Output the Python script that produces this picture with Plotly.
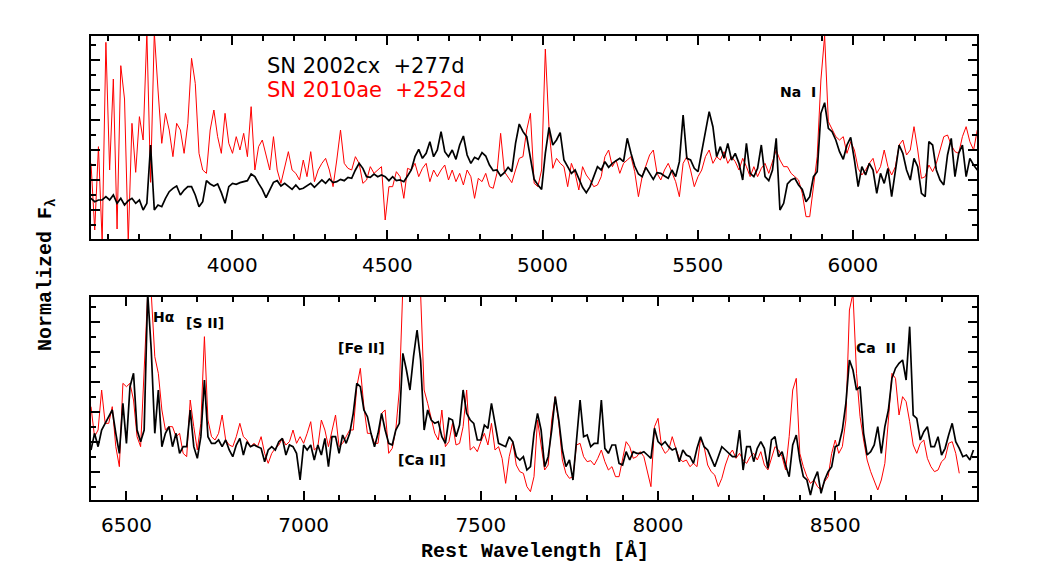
import numpy as np
import plotly.graph_objects as go

top_start, top_step = 3545, 12
bot_start, bot_step = 6400, 10

# upper panel, 3545-6400 A
top_2002cx = [
    12.2, 11.2, 11.7, 11.7, 12.7, 11.7, 13.2, 10.7, 12.2, 10.2,
    11.5, 12.2, 10.7, 11.7, 8.7, 10.7, 28.2, 8.7, 10.2, 9.7,
    12.2, 14.2, 15.2, 15.9, 13.2, 14.7, 15.7, 15.7, 13.2, 9.7,
    11.2, 17.5, 16.5, 15.9, 16.5, 13.9, 10.7, 15.7, 16.7, 16.4,
    16.9, 17.2, 17.5, 19.5, 18.7, 16.7, 14.9, 12.4, 14.9, 17.0,
    17.5, 15.9, 16.7, 15.7, 14.9, 16.2, 14.9, 15.2, 16.0, 16.7,
    15.5, 16.7, 17.7, 16.7, 18.0, 16.9, 17.2, 17.9, 17.5, 18.5,
    18.2, 20.7, 22.7, 21.2, 18.7, 18.5, 19.5, 18.7, 19.2, 18.7,
    17.5, 18.7, 17.5, 17.7, 17.2, 18.9, 20.7, 24.7, 26.9, 24.2,
    25.7, 29.2, 24.7, 26.7, 32.2, 26.2, 24.7, 26.7, 23.9, 28.2,
    30.9, 25.2, 22.7, 24.5, 23.9, 25.9, 24.9, 22.2, 20.5, 20.7,
    18.9, 19.9, 21.5, 20.2, 28.7, 34.5, 32.2, 30.7, 24.9, 17.9,
    16.2, 14.9, 25.7, 33.5, 28.2, 29.7, 31.9, 23.7, 21.7, 19.7,
    20.7, 17.9, 15.5, 13.9, 15.7, 18.7, 21.7, 20.7, 23.2, 21.5,
    22.7, 23.5, 24.2, 23.2, 30.2, 25.7, 21.9, 19.5, 18.7, 21.5,
    19.5, 17.9, 19.9, 19.7, 18.9, 18.2, 20.7, 18.7, 23.2, 37.2,
    24.2, 23.7, 21.2, 20.2, 26.2, 31.7, 38.2, 33.7, 24.7, 27.7,
    24.2, 28.7, 23.7, 25.7, 22.7, 17.7, 28.7, 19.7, 18.7, 21.2,
    28.2, 18.7, 17.5, 20.7, 30.2, 8.7, 10.7, 16.5, 17.7, 18.2,
    16.2, 14.9, 11.2, 12.7, 18.7, 20.2, 37.7, 40.9, 33.2, 32.2,
    29.7, 26.2, 23.9, 28.2, 30.5, 23.7, 15.7, 21.7, 19.2, 22.7,
    20.7, 13.7, 19.7, 16.7, 21.2, 12.7, 20.7, 28.2, 25.7, 20.7,
    17.7, 24.2, 21.7, 13.7, 12.7, 29.2, 28.2, 20.7, 17.7, 16.2,
    25.2, 30.2, 18.7, 25.7, 28.2, 18.7, 24.2, 22.2, 20.7, 19.7,
]
top_2010ae = [
    22.7, 2.7, 27.7, -1, 59, 20.7, 48, 3, 52, 42,
    -1, 34.7, 20, 36.7, 29.7, 62, 17, 62, 44.7, 28.7,
    37.7, 32.7, 24.7, 34.7, 32.7, 25.7, 34.7, 54.2, 46.7, 25.7,
    20.7, 19.7, 32.7, 38.7, 30.7, 25.7, 37.7, 28.7, 25.7, 30.7,
    26.7, 31.7, 24.7, 39.7, 20.7, 27.7, 29.7, 24.7, 20.7, 30.7,
    20.7, 16.7, 21.7, 26.2, 20.7, 19.7, 17.7, 23.7, 18.7, 26.2,
    17.2, 20.7, 22.7, 24.2, 20.7, 15.7, 23.7, 32.7, 22.7, 21.2,
    20.7, 24.7, 22.7, 16.7, 17.7, 21.7, 19.7, 20.7, 21.7, 5.7,
    15.7, 15.7, 20.2, 18.7, 12.2, 21.2, 20.7, 22.7, 18.7, 21.2,
    22.7, 17.2, 20.7, 18.7, 20.7, 22.2, 17.7, 20.7, 17.2, 19.7,
    16.2, 20.7, 18.7, 12.2, 18.2, 17.2, 19.7, 15.7, 15.2, 19.7,
    31.7, 20.2, 18.7, 16.9, 20.7, 24.2, 24.7, 32.7, 37.7, 16.7,
    15.7, 20.7, 57, 33, 21.2, 24.2, 22.7, 21.7, 15.7, 22.7,
    19.7, 14.7, 21.7, 19.2, 17.7, 15.7, 16.2, 18.7, 24.7, 26.7,
    21.7, 23.7, 19.7, 22.7, 23.7, 24.7, 20.2, 12.7, 18.7, 21.7,
    25.2, 26.7, 19.7, 17.7, 20.7, 22.7, 19.7, 17.2, 12.7, 22.7,
    24.7, 20.7, 15.7, 18.7, 20.7, 24.7, 26.7, 22.7, 24.7, 23.7,
    26.2, 22.7, 24.7, 23.2, 20.7, 24.2, 21.7, 18.7, 21.7, 18.7,
    21.2, 22.7, 19.7, 23.2, 26.7, 23.7, 21.7, 21.7, 19.7, 18.7,
    17.7, 13.7, 6.7, 6.7, 15.7, 24.7, 47.7, 61, 35.2, 32.7,
    30.7, 29.7, 30.7, 25.7, 29.2, 26.7, 21.2, 19.2, 20.7, 22.7,
    24.2, 19.7, 21.7, 26.7, 21.7, 19.2, 21.7, 28.2, 29.7, 25.2,
    26.7, 33.7, 26.7, 18.2, 18.7, 22.2, 20.2, 22.7, 26.7, 30.7,
    31.2, 28.2, 26.2, 25.7, 30.7, 33.7, 29.2, 26.7, 32.7, 29.7,
]

# lower panel, 6400-8900 A
bot_2002cx = [
    15.0, 20.0, 16.0, 21.0, 23.0, 25.0, 27.0, 20.0, 14.0, 29.0,
    17.0, 34.0, 38.0, 21.0, 17.5, 21.0, 62.0, 45.0, 20.0, 33.0,
    16.0, 20.0, 22.0, 16.0, 20.0, 14.0, 16.0, 16.0, 27.0, 16.0,
    12.5, 19.0, 36.0, 19.0, 17.0, 17.0, 18.0, 16.0, 18.0, 15.0,
    13.0, 16.5, 18.5, 13.5, 17.5, 16.0, 16.5, 16.0, 15.5, 11.5,
    15.0, 16.0, 15.0, 17.5, 18.5, 13.5, 16.5, 16.0, 14.0, 6.0,
    16.5, 15.0, 16.5, 12.0, 16.5, 13.5, 18.5, 10.0, 19.0, 19.0,
    14.0, 19.5, 17.0, 20.0, 26.0, 35.0, 34.0, 27.0, 25.0, 20.0,
    16.0, 20.0, 26.0, 21.0, 17.0, 16.5, 21.0, 23.0, 44.0, 39.0,
    33.0, 43.0, 51.0, 42.0, 21.0, 27.0, 24.0, 23.0, 23.5, 19.0,
    17.0, 24.5, 24.0, 19.0, 22.5, 33.0, 26.0, 24.0, 23.0, 18.0,
    18.0, 22.5, 21.5, 29.0, 23.0, 17.0, 16.5, 16.0, 19.0, 17.5,
    13.0, 12.0, 13.0, 9.0, 10.0, 20.0, 26.0, 21.0, 10.0, 13.0,
    21.0, 31.0, 24.0, 15.0, 10.0, 12.0, 6.0, 19.0, 30.0, 19.0,
    19.5, 16.0, 17.0, 17.0, 30.0, 15.5, 14.0, 16.5, 16.5, 11.0,
    10.5, 14.5, 12.0, 14.5, 14.0, 14.0, 14.5, 13.5, 12.5, 21.5,
    17.5, 16.5, 17.5, 16.0, 15.0, 15.5, 11.5, 15.0, 13.5, 13.0,
    11.0, 15.5, 19.0, 16.0, 15.0, 12.5, 10.0, 13.0, 16.0, 15.0,
    14.0, 13.0, 13.0, 21.0, 9.0, 16.0, 16.0, 11.5, 15.5, 17.5,
    15.5, 9.5, 18.0, 19.0, 13.0, 14.5, 10.5, 7.0, 16.5, 19.5,
    12.0, 7.0, 6.0, 1.5, 6.0, 8.5, 2.0, 6.0, 8.5, 10.0,
    16.0, 16.5, 21.0, 29.0, 42.0, 39.0, 33.0, 34.0, 20.0, 13.5,
    14.5, 16.5, 22.0, 14.0, 22.0, 27.0, 36.5, 39.5, 41.0, 42.0,
    36.0, 52.0, 25.5, 24.5, 18.0, 20.5, 22.0, 16.0, 16.0, 19.0,
    13.5, 15.5, 19.5, 23.0, 17.5, 15.5, 13.0, 13.5, 12.0, 15.0,
]
bot_2010ae = [
    28.0, 19.0, 21.0, 33.0, 23.0, 23.0, 28.0, 16.0, 10.0, 35.0,
    34.0, 35.0, 30.0, 19.0, 16.0, 37.0, 62.0, 62.0, 43.0, 38.0,
    27.0, 21.0, 22.0, 22.0, 19.0, 20.0, 14.0, 13.0, 30.0, 22.0,
    15.0, 23.0, 49.0, 24.0, 19.0, 18.0, 20.0, 25.5, 18.0, 16.5,
    16.0, 19.0, 23.0, 19.0, 18.0, 16.0, 17.0, 16.0, 19.0, 14.0,
    11.0, 14.0, 15.5, 16.5, 18.5, 16.5, 17.5, 21.0, 17.0, 19.0,
    17.0, 20.0, 23.5, 15.0, 16.0, 24.0, 21.0, 16.0, 20.5, 25.5,
    16.0, 17.0, 19.0, 21.0, 21.0, 34.0, 39.5, 28.0, 20.0, 20.0,
    17.0, 17.0, 26.0, 27.0, 14.0, 15.5, 21.0, 33.0, 64.0, 64.0,
    64.0, 64.0, 64.0, 62.0, 33.0, 29.0, 24.0, 20.0, 18.0, 27.0,
    16.0, 17.5, 23.0, 16.5, 17.0, 22.0, 33.0, 15.0, 16.0, 14.5,
    17.5, 20.0, 16.5, 23.0, 15.0, 16.0, 12.5, 5.0, 13.0, 17.5,
    10.5, 8.5, 8.0, 4.0, 2.5, 7.0, 24.0, 16.0, 9.0, 10.5,
    24.0, 31.0, 23.0, 12.0, 8.0, 6.5, 7.0, 16.5, 17.0, 13.0,
    11.5, 11.8, 10.5, 12.5, 15.0, 11.5, 9.0, 10.0, 7.0, 7.0,
    12.0, 17.5, 16.0, 12.5, 13.0, 14.5, 13.0, 8.5, 4.0, 22.0,
    24.5, 16.0, 14.0, 15.0, 19.0, 15.5, 12.5, 11.5, 12.0, 10.0,
    11.0, 10.0, 18.5, 16.0, 10.5, 8.5, 7.5, 4.0, 6.5, 10.5,
    13.5, 15.0, 12.5, 14.0, 12.0, 11.0, 13.0, 14.0, 12.0, 14.5,
    10.5, 9.0, 12.5, 16.0, 15.0, 13.0, 9.0, 19.0, 33.0, 36.5,
    14.0, 10.0, 7.0, 5.0, 6.0, 4.0, 3.0, 5.5, 7.0, 14.0,
    18.0, 14.0, 16.0, 24.0, 57.0, 62.0, 38.0, 25.0, 18.0, 12.0,
    8.5, 5.5, 3.0, 6.0, 11.0, 24.0, 38.0, 36.5, 25.5, 31.0,
    29.5, 23.5, 16.5, 14.0, 17.0, 18.0, 12.5, 10.0, 8.5, 9.0,
    11.5, 12.5, 17.0, 17.5, 14.0, 8.0,
]

top_ticks = [4000, 4500, 5000, 5500, 6000]
bot_ticks = [6500, 7000, 7500, 8000, 8500]


def grid(start, step, vals):
    return start + step * np.arange(len(vals))


# the page adds an 8px body margin, so the figure is a bit smaller than the window
OFF = 8
W, H = 1038 - 2 * OFF, 577 - 2 * OFF


def px(x=None, y=None):
    # window pixel -> paper fraction
    if x is not None:
        return (x - OFF) / W
    return 1 - (y - OFF) / H


tickfont = dict(family="DejaVu Sans", size=20, color="black")

fig = go.Figure()
fig.add_trace(go.Scatter(x=grid(top_start, top_step, top_2010ae), y=top_2010ae,
                         mode="lines", line=dict(color="red", width=1),
                         xaxis="x", yaxis="y"))
fig.add_trace(go.Scatter(x=grid(top_start, top_step, top_2002cx), y=top_2002cx,
                         mode="lines", line=dict(color="black", width=1.7),
                         xaxis="x", yaxis="y"))
fig.add_trace(go.Scatter(x=grid(bot_start, bot_step, bot_2010ae), y=bot_2010ae,
                         mode="lines", line=dict(color="red", width=1),
                         xaxis="x2", yaxis="y2"))
fig.add_trace(go.Scatter(x=grid(bot_start, bot_step, bot_2002cx), y=bot_2002cx,
                         mode="lines", line=dict(color="black", width=1.7),
                         xaxis="x2", yaxis="y2"))

frame = dict(showline=True, linecolor="black", linewidth=2, mirror="ticks",
             ticks="inside", ticklen=9, tickwidth=1.5, tickcolor="black",
             showgrid=False, zeroline=False)
minor_x = dict(ticks="inside", ticklen=5, tickwidth=1.5, tickcolor="black",
               tick0=0, dtick=100)
xdom = [px(x=91), px(x=977)]

fig.update_layout(
    width=W, height=H,
    margin=dict(l=0, r=0, t=0, b=0),
    paper_bgcolor="white", plot_bgcolor="white",
    showlegend=False,
    xaxis=dict(frame, domain=xdom, range=[3545, 6400], anchor="y",
               tickvals=top_ticks, tickfont=tickfont, ticklabelstandoff=7,
               minor=minor_x),
    yaxis=dict(frame, domain=[px(y=239), px(y=36)], range=[0, 60.9], anchor="x",
               tick0=8.7, dtick=9, showticklabels=False,
               minor=dict(ticks="inside", ticklen=5, tickwidth=1.5, tickcolor="black",
                          tick0=4.2, dtick=4.5)),
    xaxis2=dict(frame, domain=xdom, range=[6400, 8900], anchor="y2",
                tickvals=bot_ticks, tickfont=tickfont, ticklabelstandoff=6,
                minor=minor_x),
    yaxis2=dict(frame, domain=[px(y=500), px(y=297)], range=[0, 60.9], anchor="x2",
                tick0=8.3, dtick=9, showticklabels=False,
                minor=dict(ticks="inside", ticklen=5, tickwidth=1.5, tickcolor="black",
                           tick0=3.8, dtick=4.5)),
)

# legend-like labels and line identifications
notes = [
    ("x", "y", 4106, 51.9, "SN 2002cx\u00a0\u00a0+277d", "black", "left", 21),
    ("x", "y", 4106, 44.7, "SN 2010ae\u00a0\u00a0+252d", "red", "left", 21),
    ("x", "y", 5823, 44.1, "<b>Na\u00a0\u00a0I</b>", "black", "center", 14),
    ("x2", "y2", 6606, 54.9, "<b>H\u03b1</b>", "black", "center", 14),
    ("x2", "y2", 6722, 53.1, "<b>[S\u00a0II]</b>", "black", "center", 14),
    ("x2", "y2", 7162, 45.6, "<b>[Fe\u00a0II]</b>", "black", "center", 14),
    ("x2", "y2", 7334, 12.0, "<b>[Ca\u00a0II]</b>", "black", "center", 14),
    ("x2", "y2", 8616, 45.6, "<b>Ca\u00a0\u00a0II</b>", "black", "center", 14),
]
for xr, yr, x, y, txt, col, anc, size in notes:
    fig.add_annotation(xref=xr, yref=yr, x=x, y=y, text=txt, showarrow=False,
                       xanchor=anc, yanchor="middle",
                       font=dict(family="DejaVu Sans", size=size, color=col))

titlefont = dict(family="Liberation Mono", size=20, color="black")
fig.add_annotation(xref="paper", yref="paper", x=px(x=535), y=px(y=551),
                   text="<b>Rest Wavelength [\u00c5]</b>", showarrow=False,
                   xanchor="center", yanchor="middle", font=titlefont)
fig.add_annotation(xref="paper", yref="paper", x=px(x=46), y=px(y=275),
                   text="<b>Normalized F<sub>\u03bb</sub></b>", showarrow=False,
                   textangle=-90, xanchor="center", yanchor="middle", font=titlefont)

fig.write_html("out.html")
